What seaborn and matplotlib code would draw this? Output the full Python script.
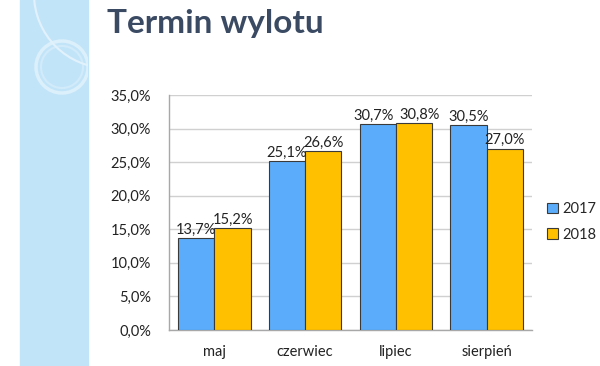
import numpy as np
import pandas as pd
import seaborn as sns
import matplotlib.pyplot as plt
from matplotlib.patches import Rectangle, Circle

months = ['maj', 'czerwiec', 'lipiec', 'sierpień']
v2017 = [13.7, 25.1, 30.7, 30.5]
v2018 = [15.2, 26.6, 30.8, 27.0]
years = ['2017', '2018']
yticks = [0, 5, 10, 15, 20, 25, 30, 35]

df = pd.DataFrame({
    'month': months * 2,
    'year': ['2017'] * 4 + ['2018'] * 4,
    'value': v2017 + v2018,
})

sns.set_style('white')
plt.rcParams['font.family'] = ['Lato', 'DejaVu Sans']

fig = plt.figure(figsize=(6, 3.66), dpi=100)

# decorative left strip
strip = Rectangle((20 / 600, 0), 68 / 600, 1, transform=fig.transFigure,
                  color='#c2e4f8', zorder=0)
fig.patches.append(strip)
for cx, cy, r, lw, col in [(62, 299, 26, 2.5, '#dcf0fb'), (62, 299, 21, 1.5, '#d2ebfa'),
                           (108, 372, 74, 1.5, '#e2f2fc')]:
    c = Circle((cx, cy), r, transform=None, fill=False, edgecolor=col, lw=lw, zorder=1)
    c.set_clip_path(strip)
    fig.patches.append(c)

fig.text(107 / 600, 1 - 33 / 366, 'Termin wylotu', fontsize=24, fontweight='bold',
         color='#3b4a63', ha='left', va='baseline')

ax = fig.add_axes([169 / 600, 1 - 330 / 366, 363 / 600, 235 / 366])
sns.barplot(data=df, x='month', y='value', hue='year', order=months, hue_order=years,
            palette=['#5badfc', '#ffc000'], saturation=1, edgecolor='#3a3a3a',
            linewidth=0.8, width=0.8, ax=ax, zorder=3)

# labels; nudge apart where both bars are nearly the same height
close = [abs(a - b) < 1 for a, b in zip(v2017, v2018)]
for cont, vals, dx in zip(ax.containers, [v2017, v2018], [-3, 4]):
    anns = ax.bar_label(cont, labels=[f'{v:.1f}%'.replace('.', ',') for v in vals],
                        fontsize=10.5, padding=1, color='#222222')
    for a, c in zip(anns, close):
        if c:
            a.xyann = (dx, 1)

ax.set_ylim(0, 35)
ax.set_yticks(yticks)
ax.set_yticklabels([f'{t:.1f}%'.replace('.', ',') for t in yticks])
ax.tick_params(axis='both', length=0, pad=13, labelcolor='#222222', labelsize=10.5)
ax.tick_params(axis='x', pad=11)
ax.set_xlabel('')
ax.set_ylabel('')
ax.yaxis.grid(True, color='#d0d0d0', lw=1, zorder=0)
for s in ['top', 'right']:
    ax.spines[s].set_visible(False)
for s in ['left', 'bottom']:
    ax.spines[s].set_color('#a8a8a8')
    ax.spines[s].set_linewidth(1)

ax.legend(loc='center left', bbox_to_anchor=(1.0, 0.46), frameon=False, fontsize=10.5,
          handlelength=0.75, handleheight=0.75, handletextpad=0.3, labelspacing=0.8,
          borderaxespad=0.6)

fig.savefig('out.png', dpi=100)
